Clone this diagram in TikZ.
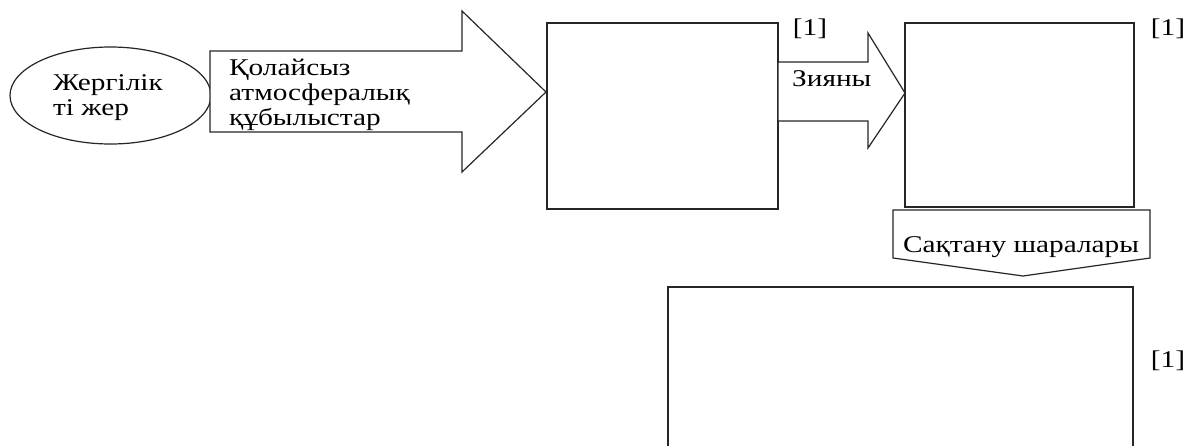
\documentclass[tikz,border=0pt]{standalone}
\usepackage{fontspec}
\setmainfont{Liberation Serif}[FakeStretch=1.22]
\usetikzlibrary{shapes.geometric}
\begin{document}
\begin{tikzpicture}[x=1pt,y=-1pt,
  shapeline/.style={draw=black!85, line width=1.2pt, fill=white, line join=miter},
  txt/.style={font=\fontsize{24}{24}\selectfont, inner sep=0pt, anchor=base west},
  ctr/.style={font=\fontsize{24}{24}\selectfont, inner sep=0pt, anchor=base}]
\fill[white] (0,0) rectangle (1190,445);
\useasboundingbox (0,0) rectangle (1190,445);

% ellipse
\node[shapeline, ellipse, minimum width=201pt, minimum height=97pt, inner sep=0pt] (loc) at (110.5,95.5) {};
\node[txt] (loc1) at (53,90) {Жергілік};
\node[txt] (loc2) at (53,115) {ті жер};

% big arrow
\draw[shapeline] (210,51) coordinate (a1) -- (462,51) -- (462,11) -- (546,92) coordinate (a1tip) -- (462,172) -- (462,132) -- (210,132) -- cycle;
\node[txt] (a1l1) at (229,75) {Қолайсыз};
\node[txt] (a1l2) at (229,100) {атмосфералық};
\node[txt] (a1l3) at (229,125) {құбылыстар};

% box 1
\draw[shapeline] (547,23) rectangle (778,209);
\node[ctr] (r1) at (810,35) {[1]};

% arrow 2
\draw[shapeline] (778,62) -- (868,62) -- (868,33) -- (905,93) coordinate (a2tip) -- (868,148) -- (868,121) -- (778,121) -- cycle;
\node[txt] (a2txt) at (792,86) {Зияны};

% box 2
\draw[shapeline] (905,23) rectangle (1134,207);
\node[ctr] (r2) at (1168,35) {[1]};

% callout
\draw[shapeline] (893,210) -- (1150,210) -- (1150,258) -- (1023,276) coordinate (ctip) -- (893,258) -- cycle;
\node[ctr] (ctxt) at (1021,252) {Сақтану шаралары};

% box 3 (cut off at bottom)
\draw[shapeline, fill=none] (668,452) -- (668,287) -- (1133,287) -- (1133,452);
\node[ctr] (r3) at (1168,367) {[1]};
\end{tikzpicture}
\end{document}
